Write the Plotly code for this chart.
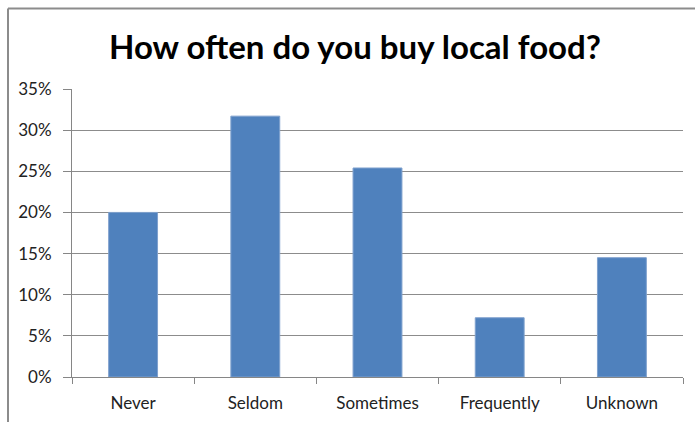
import plotly.graph_objects as go

# Survey answers and their shares
categories = ["Never", "Seldom", "Sometimes", "Frequently", "Unknown"]
shares = [0.200, 0.317, 0.254, 0.072, 0.145]
y_ticks = [0.00, 0.05, 0.10, 0.15, 0.20, 0.25, 0.30, 0.35]
y_tick_labels = ["0%", "5%", "10%", "15%", "20%", "25%", "30%", "35%"]

W, H = 695, 422
L, R, T, B = 72, 12, 89, 45
pw, ph = W - L - R, H - T - B
FONT = "Lato, Carlito, Calibri, sans-serif"

fig = go.Figure(
    go.Bar(
        x=categories,
        y=shares,
        marker=dict(color="#4F81BD", line=dict(color="#7FA1CE", width=1)),
        width=0.4,
    )
)

# outer chart frame (left and top edges)
fx = (8 - L) / pw
fy = 1 + (T - 8.5) / ph
fig.add_shape(type="line", xref="paper", yref="paper",
              x0=fx, x1=fx, y0=-0.5, y1=fy,
              line=dict(color="#8C8C8C", width=2))
fig.add_shape(type="line", xref="paper", yref="paper",
              x0=fx, x1=1.5, y0=fy, y1=fy,
              line=dict(color="#8C8C8C", width=2))

fig.update_layout(
    width=W, height=H,
    margin=dict(l=L, r=R, t=T, b=B),
    paper_bgcolor="white", plot_bgcolor="white",
    showlegend=False,
    font=dict(family=FONT, color="#222222", size=16),
    title=dict(
        text="<b>How often do you buy local food?</b>",
        x=355 / W, xref="container", xanchor="center",
        y=1 - 47 / H, yanchor="middle",
        font=dict(family=FONT, size=33, color="black"),
    ),
    xaxis=dict(
        showline=True, linecolor="#868686", linewidth=1,
        ticks="outside", tickson="boundaries", ticklen=6, tickcolor="#868686",
        showgrid=False,
        tickfont=dict(family=FONT, size=17, color="#222222"),
        ticklabelstandoff=11,
        automargin=False,
    ),
    yaxis=dict(
        range=[0, 0.35],
        tickvals=y_ticks, ticktext=y_tick_labels,
        showline=True, linecolor="#868686", linewidth=1,
        ticks="outside", ticklen=8, tickcolor="#868686",
        showgrid=True, gridcolor="#8C8C8C", gridwidth=1,
        zeroline=False,
        tickfont=dict(family=FONT, size=17, color="#222222"),
        ticklabelstandoff=8,
        automargin=False,
    ),
)

fig.write_html("out.html")
